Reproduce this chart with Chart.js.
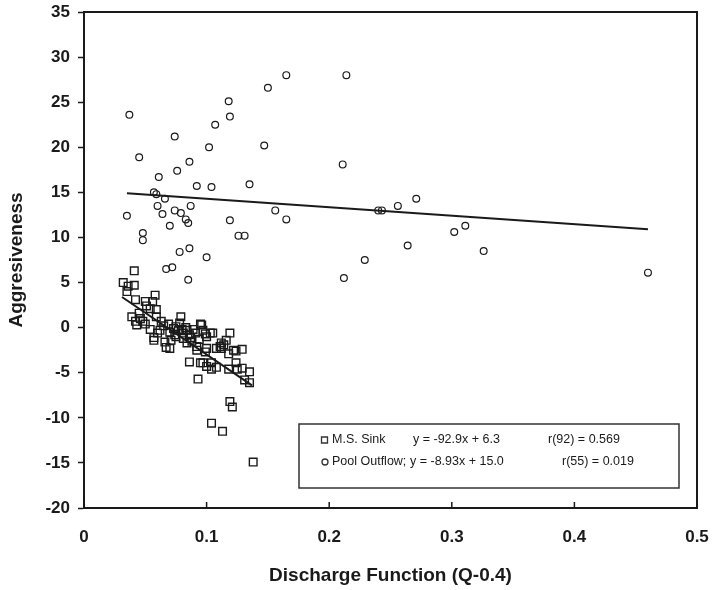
<!DOCTYPE html>
<html><head><meta charset="utf-8">
<script src="https://cdn.jsdelivr.net/npm/chart.js@4/dist/chart.umd.min.js"></script>
<style>html,body{margin:0;padding:0;background:#fff}#wrap{width:712px;height:590px;position:relative}</style>
</head><body><div id="wrap"><canvas id="c" width="712" height="590"></canvas></div>
<script>
// ---- data ----
const xTickLabels = ['0','0.1','0.2','0.3','0.4','0.5'];
const yTickLabels = ['-20','-15','-10','-5','0','5','10','15','20','25','30','35'];
const xTitle = 'Discharge Function (Q-0.4)';
const yTitle = 'Aggresiveness';

// M.S. Sink (squares)
const sinkX = [0.041,0.032,0.041,0.035,0.042,0.050,0.056,0.058,0.054,0.039,0.045,0.042,0.043,0.050,0.054,0.057,0.057,0.059,0.063,0.062,
  0.067,0.069,0.073,0.075,0.078,0.079,0.071,0.075,0.081,0.084,0.087,0.089,0.092,0.096,0.097,0.099,0.100,0.103,0.105,0.086,
  0.095,0.093,0.100,0.104,0.104,0.099,0.100,0.108,0.111,0.112,0.116,0.119,0.122,0.124,0.118,0.124,0.125,0.119,0.121,0.104,
  0.113,0.095,0.084,0.086,0.091,0.081,0.092,0.112,0.114,0.129,0.097,0.129,0.135,0.131,0.135,0.138,0.036,0.051,0.059,0.046,
  0.048,0.065,0.070,0.077,0.074,0.066,0.080,0.083,0.060,0.088,0.070,0.094,0.118,0.108];
const sinkY = [6.3,5.0,4.7,4.0,3.1,2.9,2.9,3.6,2.1,1.2,1.6,0.7,0.3,0.4,-0.2,-1.1,-1.4,1.2,0.7,-0.3,
  -2.2,0.4,-0.1,0.1,0.5,1.2,-1.4,-1.0,-0.6,-1.7,-1.1,-0.2,-2.1,0.3,-0.3,-0.7,-1.0,-0.6,-0.6,-3.8,
  -3.9,-5.7,-4.3,-3.9,-4.6,-2.7,-2.3,-2.3,-2.1,-1.7,-1.4,-0.6,-2.5,-2.6,-4.6,-3.9,-4.6,-8.2,-8.8,-10.6,
  -11.5,0.4,-0.3,-0.8,-0.6,-1.2,-2.5,-2.3,-1.9,-2.4,-3.9,-4.5,-4.9,-5.8,-6.1,-14.9,4.6,2.4,2.0,1.0,
  0.7,0.2,-0.5,-0.3,-0.8,-1.6,-0.2,0.0,-0.6,-1.5,-2.3,-1.3,-2.9,-4.4];

// Pool Outflow (circles)
const poolX = [0.037,0.045,0.074,0.061,0.076,0.086,0.102,0.107,0.118,0.119,0.150,0.165,0.214,0.147,0.211,0.092,0.104,0.135,0.035,0.057,
  0.059,0.066,0.060,0.064,0.074,0.079,0.083,0.085,0.087,0.070,0.119,0.156,0.165,0.048,0.048,0.126,0.131,0.078,0.086,0.100,
  0.240,0.243,0.256,0.271,0.302,0.311,0.264,0.326,0.229,0.212,0.460,0.085,0.067,0.072];
const poolY = [23.6,18.9,21.2,16.7,17.4,18.4,20.0,22.5,25.1,23.4,26.6,28.0,28.0,20.2,18.1,15.7,15.6,15.9,12.4,15.0,
  14.8,14.3,13.5,12.6,13.0,12.7,12.0,11.6,13.5,11.3,11.9,13.0,12.0,10.5,9.7,10.2,10.2,8.4,8.8,7.8,
  13.0,13.0,13.5,14.3,10.6,11.3,9.1,8.5,7.5,5.5,6.1,5.3,6.5,6.7];

// regression lines (end points)
const sinkLineX = [0.031, 0.137];
const sinkLineY = [3.4, -6.4];
const poolLineX = [0.035, 0.460];
const poolLineY = [14.9, 10.9];

// legend texts
const legendNames = ['M.S. Sink', 'Pool Outflow;'];
const legendEqs = ['y = -92.9x + 6.3', 'y = -8.93x + 15.0'];
const legendStats = ['r(92) = 0.569', 'r(55) = 0.019'];

// ---- build ----
const pts = (xs, ys) => xs.map((x, i) => ({x, y: ys[i]}));
const INK = '#1a1a1a';
const FONT = '"Liberation Sans", Arial, sans-serif';

const frameAndTicks = {
  id: 'frameAndTicks',
  afterDraw(chart) {
    const {ctx, chartArea: a, scales: {x}} = chart;
    ctx.save();
    ctx.strokeStyle = INK;
    ctx.lineWidth = 2;
    ctx.strokeRect(a.left, a.top, a.right - a.left, a.bottom - a.top);
    ctx.lineWidth = 1.5;
    x.ticks.forEach(t => {
      const px = x.getPixelForValue(t.value);
      ctx.beginPath();
      ctx.moveTo(px, a.bottom);
      ctx.lineTo(px, a.bottom - 6);
      ctx.stroke();
    });
    ctx.restore();
  }
};

const legendBox = {
  id: 'legendBox',
  afterDraw(chart) {
    const {ctx, chartArea: a} = chart;
    const L = a.left + 215, T = a.top + 412, W = 380, H = 64;
    ctx.save();
    ctx.strokeStyle = '#333';
    ctx.lineWidth = 1.5;
    ctx.fillStyle = '#fff';
    ctx.fillRect(L, T, W, H);
    ctx.strokeRect(L, T, W, H);
    ctx.font = '12.5px ' + FONT;
    ctx.fillStyle = INK;
    ctx.textBaseline = 'middle';
    const rowsY = [T + 16, T + 38];
    const eqX = [L + 114, L + 111];
    const stX = [L + 249, L + 263];
    for (let i = 0; i < 2; i++) {
      const cy = rowsY[i];
      ctx.lineWidth = 1.3;
      ctx.beginPath();
      if (i === 0) ctx.rect(L + 22.5, cy - 3, 6, 6);
      else ctx.arc(L + 26, cy, 3, 0, Math.PI * 2);
      ctx.stroke();
      ctx.fillText(legendNames[i], L + 33, cy);
      ctx.fillText(legendEqs[i], eqX[i], cy);
      ctx.fillText(legendStats[i], stX[i], cy);
    }
    ctx.restore();
  }
};

new Chart(document.getElementById('c'), {
  type: 'scatter',
  data: {
    datasets: [
      {label: 'M.S. Sink', data: pts(sinkX, sinkY), pointStyle: 'rect', pointRadius: 5.4,
       borderColor: INK, backgroundColor: 'rgba(255,255,255,0)', borderWidth: 1.4, order: 2},
      {label: 'Pool Outflow', data: pts(poolX, poolY), pointStyle: 'circle', pointRadius: 3.4,
       borderColor: INK, backgroundColor: 'rgba(255,255,255,0)', borderWidth: 1.2, order: 3},
      {label: 'sinkFit', data: pts(sinkLineX, sinkLineY), showLine: true, pointRadius: 0,
       borderColor: INK, borderWidth: 2, order: 1},
      {label: 'poolFit', data: pts(poolLineX, poolLineY), showLine: true, pointRadius: 0,
       borderColor: INK, borderWidth: 2, order: 1}
    ]
  },
  options: {
    responsive: false,
    animation: false,
    events: [],
    layout: {padding: 0},
    plugins: {legend: {display: false}, tooltip: {enabled: false}},
    scales: {
      x: {
        type: 'linear', min: 0, max: 0.5,
        afterFit: s => { s.height = 82; s.paddingLeft = 0; s.paddingRight = 15; },
        grid: {display: true, drawOnChartArea: false, drawTicks: false, color: INK},
        border: {display: true, color: INK, width: 2},
        ticks: {stepSize: 0.1, padding: 19, color: INK, maxRotation: 0,
          font: {family: FONT, size: 17, weight: 'bold'},
          callback: (v, i) => xTickLabels[i]},
        title: {display: true, text: xTitle, color: INK, padding: {top: 0, bottom: 3},
          font: {family: FONT, size: 19, weight: 'bold'}}
      },
      y: {
        type: 'linear', min: -20, max: 35,
        afterFit: s => { s.width = 84; s.paddingTop = 12; s.paddingBottom = 0; },
        grid: {display: true, drawOnChartArea: false, drawTicks: true, tickLength: 6, color: INK, tickWidth: 1.5},
        border: {display: true, color: INK, width: 2},
        ticks: {stepSize: 5, padding: 8, color: INK,
          font: {family: FONT, size: 17, weight: 'bold'},
          callback: (v, i) => yTickLabels[i]},
        title: {display: true, text: yTitle, color: INK, padding: {top: 5, bottom: 0},
          font: {family: FONT, size: 19, weight: 'bold'}}
      }
    }
  },
  plugins: [frameAndTicks, legendBox]
});
</script>
</body></html>
